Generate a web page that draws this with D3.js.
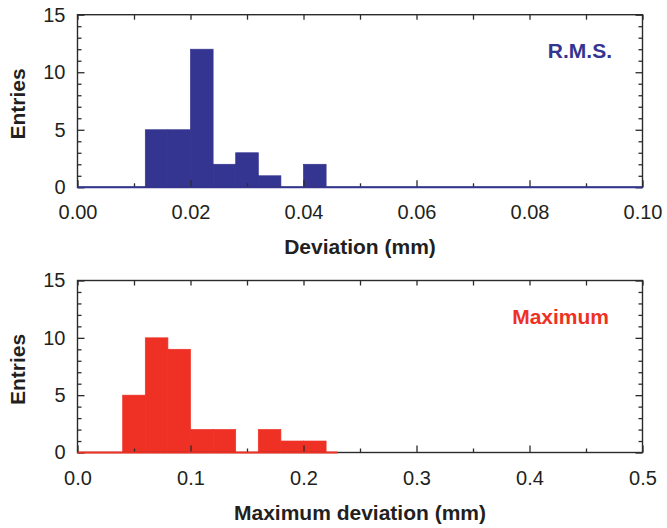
<!DOCTYPE html>
<html lang="en">
<head>
    <script src="https://d3js.org/d3.v7.min.js"></script>
</head>
<style>
    body { margin: 0; background: #fff; }
    text { font-family: "Liberation Sans", Arial, sans-serif; }
</style>
<body>
<script>
    // canvas size
    const w = 667
    const h = 528

    // R.M.S. deviation histogram (bin lower edges, counts)
    const rmsBinLo = [0.012, 0.016, 0.020, 0.024, 0.028, 0.032, 0.036, 0.040]
    const rmsCounts = [5, 5, 12, 2, 3, 1, 0, 2]
    const rmsBinWidth = 0.004
    const rmsMajorTicks = [0, 0.02, 0.04, 0.06, 0.08, 0.10]
    const rmsMinorTicks = [0.01, 0.03, 0.05, 0.07, 0.09]

    // maximum deviation histogram
    const maxBinLo = [0.04, 0.06, 0.08, 0.10, 0.12, 0.14, 0.16, 0.18, 0.20]
    const maxCounts = [5, 10, 9, 2, 2, 0, 2, 1, 1]
    const maxBinWidth = 0.02
    const maxMajorTicks = [0, 0.1, 0.2, 0.3, 0.4, 0.5]
    const maxMinorTicks = [0.05, 0.15, 0.25, 0.35, 0.45]

    // y axis ticks (shared)
    const yMajorTicks = [0, 5, 10, 15]
    const yMinorTicks = [1, 2, 3, 4, 6, 7, 8, 9, 11, 12, 13, 14]

    let svg = d3.select("body")
        .append("svg")
        .attr("width", w)
        .attr("height", h)

    function drawPanel(cfg) {
        let x = d3.scaleLinear().domain(cfg.xDomain).range([77.5, 642.5])
        let y = d3.scaleLinear().domain([0, 15]).range([cfg.bottom, cfg.top])
        let g = svg.append("g")

        // bars first, frame on top
        g.selectAll("rect.bar")
            .data(cfg.lo.map((d, i) => ({lo: d, n: cfg.counts[i]})).filter(d => d.n > 0))
            .enter()
            .append("rect")
            .attr("class", "bar")
            .attr("x", d => x(d.lo))
            .attr("width", d => x(d.lo + cfg.binWidth) - x(d.lo))
            .attr("y", d => y(d.n))
            .attr("height", d => y(0) - y(d.n))
            .attr("fill", cfg.color)
            .attr("stroke", cfg.color)
            .attr("stroke-width", 0.7)

        // frame
        g.append("rect")
            .attr("x", x.range()[0])
            .attr("y", cfg.top)
            .attr("width", x.range()[1] - x.range()[0])
            .attr("height", cfg.bottom - cfg.top)
            .attr("fill", "none")
            .attr("stroke", "#2b2b2b")
            .attr("stroke-width", 1.4)

        // ticks pointing inward on all four sides
        let tickAxes = [
            [d3.axisBottom(x).tickValues(cfg.major).tickSize(-7).tickFormat(cfg.fmt), cfg.bottom, "x", true],
            [d3.axisBottom(x).tickValues(cfg.minor).tickSize(-4).tickFormat(""), cfg.bottom, "x", false],
            [d3.axisTop(x).tickValues(cfg.major.concat(cfg.minor)).tickSize(-5).tickFormat(""), cfg.top, "x", false],
            [d3.axisLeft(y).tickValues(yMajorTicks).tickSize(-7), x.range()[0], "y", true],
            [d3.axisLeft(y).tickValues(yMinorTicks).tickSize(-4).tickFormat(""), x.range()[0], "y", false],
            [d3.axisRight(y).tickValues(yMajorTicks).tickSize(-7).tickFormat(""), x.range()[1], "y", false],
            [d3.axisRight(y).tickValues(yMinorTicks).tickSize(-4).tickFormat(""), x.range()[1], "y", false]
        ]
        tickAxes.forEach(([ax, pos, dir, labelled]) => {
            let a = g.append("g")
                .attr("transform", dir == "x" ? "translate(0," + pos + ")" : "translate(" + pos + ",0)")
                .call(ax.tickSizeOuter(0).tickPadding(dir == "x" ? 18 : 12))
            a.select(".domain").remove()
            a.selectAll("line").attr("stroke", "#2b2b2b").attr("stroke-width", 1.3)
            if (labelled) {
                a.selectAll("text")
                    .attr("font-size", "20px")
                    .attr("fill", "#231f20")
                    .attr("font-family", "Liberation Sans, Arial, sans-serif")
            }
        })

        // coloured zero line of the histogram outline
        g.append("line")
            .attr("x1", x(0))
            .attr("x2", x(cfg.baseEnd))
            .attr("y1", y(0))
            .attr("y2", y(0))
            .attr("stroke", cfg.color)
            .attr("stroke-width", 2)

        // series label
        g.append("text")
            .attr("x", cfg.labelX)
            .attr("y", cfg.top + 43)
            .attr("text-anchor", "end")
            .attr("font-size", "21px")
            .attr("font-weight", "bold")
            .attr("fill", cfg.color)
            .text(cfg.label)

        // axis titles
        g.append("text")
            .attr("x", 360)
            .attr("y", cfg.bottom + 67)
            .attr("text-anchor", "middle")
            .attr("font-size", "21px")
            .attr("font-weight", "bold")
            .attr("fill", "#231f20")
            .text(cfg.xTitle)

        g.append("text")
            .attr("transform", "translate(25," + ((cfg.top + cfg.bottom) / 2 + 3) + ") rotate(-90)")
            .attr("text-anchor", "middle")
            .attr("font-size", "21px")
            .attr("font-weight", "bold")
            .attr("fill", "#231f20")
            .text("Entries")
    }

    drawPanel({
        xDomain: [0, 0.1], top: 14.7, bottom: 187.3,
        lo: rmsBinLo, counts: rmsCounts, binWidth: rmsBinWidth,
        major: rmsMajorTicks, minor: rmsMinorTicks, fmt: d3.format(".2f"),
        color: "#343491", baseEnd: 0.1,
        label: "R.M.S.", labelX: 612, xTitle: "Deviation (mm)"
    })

    drawPanel({
        xDomain: [0, 0.5], top: 280.5, bottom: 452.5,
        lo: maxBinLo, counts: maxCounts, binWidth: maxBinWidth,
        major: maxMajorTicks, minor: maxMinorTicks, fmt: d3.format(".1f"),
        color: "#ee3124", baseEnd: 0.23,
        label: "Maximum", labelX: 609, xTitle: "Maximum deviation (mm)"
    })
</script>
</body>
</html>
